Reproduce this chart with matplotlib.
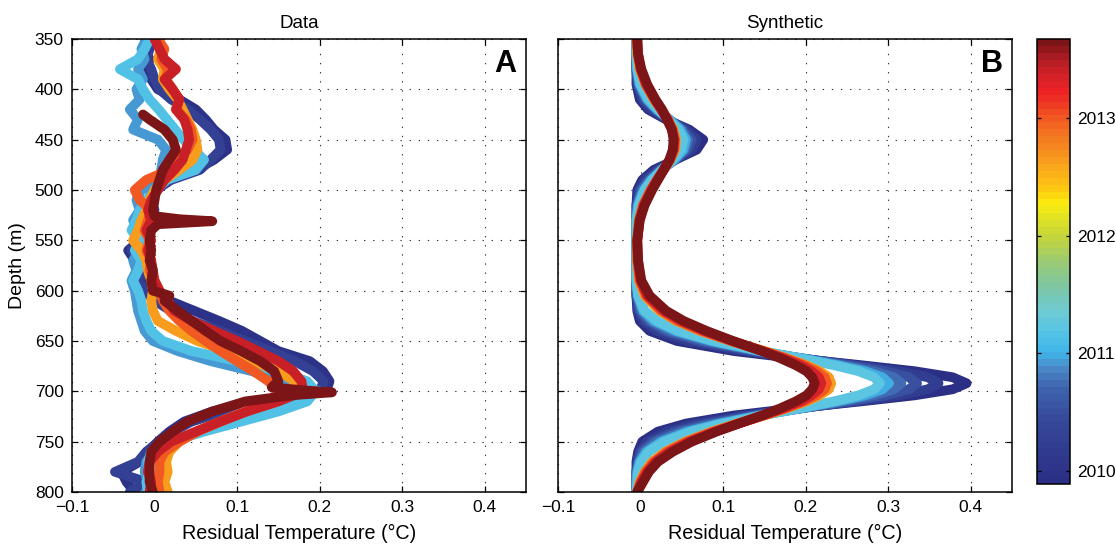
import numpy as np
import matplotlib
matplotlib.use("Agg")
import matplotlib.pyplot as plt
from matplotlib.colors import LinearSegmentedColormap, Normalize
from matplotlib.cm import ScalarMappable

plt.rcParams['font.family'] = ['Liberation Sans', 'DejaVu Sans']

# ---------------- data ----------------
# Panel A: observed residual temperature profiles
depth_A = list(range(350, 801, 10))
time_A = [2009.95, 2010.3, 2010.9, 2011.15, 2012.62, 2013.0, 2013.38]
temp_A_2009_95 = [-0.008, -0.012, -0.006, -0.010, -0.004, 0.004, 0.030, 0.050, 0.062, 0.072,
                  0.086, 0.088, 0.072, 0.050, 0.012, -0.002, -0.008, -0.004, -0.012, -0.020,
                  -0.018, -0.032, -0.024, -0.012, -0.016, -0.006, 0.018, 0.048, 0.078, 0.106,
                  0.128, 0.150, 0.188, 0.204, 0.212, 0.208, 0.125, 0.070, 0.036, 0.018,
                  0.004, -0.008, -0.018, -0.040, -0.034, -0.024]
temp_A_2010_3 = [-0.012, -0.006, -0.010, -0.004, 0.000, 0.006, 0.020, 0.040, 0.055, 0.068,
                 0.078, 0.080, 0.068, 0.055, 0.020, 0.002, -0.004, 0.000, -0.008, -0.016,
                 -0.022, -0.028, -0.018, -0.014, -0.020, -0.012, 0.000, 0.020, 0.045, 0.080,
                 0.110, 0.140, 0.170, 0.192, 0.205, 0.200, 0.145, 0.085, 0.045, 0.022,
                 0.005, -0.010, -0.020, -0.048, -0.010, -0.030]
temp_A_2010_9 = [-0.010, -0.016, -0.012, -0.020, -0.014, -0.022, -0.018, -0.030, -0.020, -0.026,
                 0.004, 0.014, 0.010, 0.008, 0.006, -0.016, -0.022, -0.018, -0.026, -0.020,
                 -0.024, -0.018, -0.026, -0.022, -0.028, -0.024, -0.022, -0.020, -0.016, -0.012,
                 -0.002, 0.028, 0.068, 0.118, 0.165, 0.200, 0.172, 0.130, 0.090, 0.052,
                 0.026, 0.000, -0.010, -0.012, -0.008, -0.010]
temp_A_2011_15 = [-0.006, -0.012, -0.020, -0.042, -0.020, -0.014, -0.006, 0.005, 0.015, 0.025,
                  0.035, 0.048, 0.060, 0.050, 0.015, 0.002, -0.010, -0.018, -0.022, -0.028,
                  -0.018, -0.024, -0.016, -0.020, -0.026, -0.020, -0.016, -0.014, -0.010, -0.004,
                  0.010, 0.045, 0.100, 0.150, 0.185, 0.195, 0.185, 0.150, 0.105, 0.060,
                  0.020, -0.004, -0.008, -0.006, -0.010, -0.008]
temp_A_2012_62 = [0.000, 0.008, 0.004, 0.012, 0.010, 0.018, 0.028, 0.034, 0.040, 0.046,
                  0.050, 0.052, 0.046, 0.030, 0.012, 0.000, -0.006, -0.010, -0.016, -0.020,
                  -0.026, -0.016, -0.010, -0.008, -0.004, -0.002, -0.004, -0.002, 0.004, 0.026,
                  0.052, 0.088, 0.120, 0.150, 0.170, 0.170, 0.150, 0.110, 0.080, 0.050,
                  0.030, 0.018, 0.014, 0.016, 0.012, 0.016]
temp_A_2013_0 = [0.004, 0.012, 0.008, 0.016, 0.014, 0.022, 0.030, 0.026, 0.038, 0.044,
                 0.046, 0.040, 0.030, 0.018, -0.010, -0.024, -0.018, -0.004, -0.008, -0.012,
                 -0.006, -0.010, -0.004, -0.006, 0.000, 0.006, 0.010, 0.018, 0.030, 0.045,
                 0.062, 0.080, 0.100, 0.120, 0.138, 0.150, 0.140, 0.110, 0.080, 0.052,
                 0.030, 0.012, 0.006, 0.006, 0.004, 0.006]
temp_A_2013_38 = [0.000, 0.006, 0.012, 0.026, 0.012, 0.022, 0.030, 0.026, 0.036, 0.040,
                  0.042, 0.038, 0.034, 0.024, 0.012, 0.004, -0.004, -0.008, -0.004, -0.010,
                  -0.004, -0.008, -0.004, -0.002, 0.000, 0.006, 0.016, 0.024, 0.045, 0.072,
                  0.100, 0.125, 0.150, 0.168, 0.178, 0.180, 0.150, 0.112, 0.080, 0.050,
                  0.020, 0.004, -0.006, -0.008, -0.004, -0.006]
temps_A = [temp_A_2009_95, temp_A_2010_3, temp_A_2010_9, temp_A_2011_15,
           temp_A_2012_62, temp_A_2013_0, temp_A_2013_38]
# last profile (2013.67) sampled on its own depths
time_A_last = 2013.67
depth_A_last = [425, 430, 440, 450, 460, 470, 480, 490, 500, 510,
                520, 526, 529, 531, 534, 540, 550, 560, 570, 580,
                590, 600, 605, 610, 620, 630, 640, 650, 660, 670,
                680, 690, 696, 699, 701, 704, 710, 720, 730, 740,
                750, 760, 770, 780, 790, 800]
temp_A_last = [-0.014, -0.006, 0.012, 0.022, 0.026, 0.018, 0.010, 0.006, 0.002, 0.000,
               -0.002, 0.000, 0.030, 0.070, 0.004, -0.004, -0.006, -0.004, -0.006, -0.002,
               -0.004, -0.002, 0.018, 0.012, 0.028, 0.045, 0.062, 0.080, 0.105, 0.128,
               0.145, 0.150, 0.142, 0.180, 0.215, 0.165, 0.110, 0.070, 0.040, 0.022,
               0.006, -0.004, -0.006, -0.006, -0.006, -0.002]

# Panel B: synthetic profiles
depth_B = [350, 365, 380, 395, 410, 420, 430, 440, 450, 460,
           470, 480, 490, 500, 515, 530, 550, 570, 590, 605,
           620, 630, 640, 650, 660, 667, 674, 680, 686, 692,
           698, 704, 710, 717, 724, 732, 740, 750, 760, 770,
           780, 790, 800]
time_B = [2009.9, 2010.2, 2010.5, 2010.75, 2011.0, 2011.2, 2012.62, 2013.0, 2013.35, 2013.67]
temp_B_2009_9 = [-0.005, -0.005, -0.005, -0.005, -0.001, 0.009, 0.031, 0.059, 0.076, 0.068,
                 0.042, 0.016, 0.002, -0.004, -0.005, -0.005, -0.005, -0.005, -0.005, -0.005,
                 -0.004, -0.001, 0.011, 0.044, 0.113, 0.185, 0.267, 0.332, 0.378, 0.395,
                 0.378, 0.332, 0.267, 0.185, 0.113, 0.055, 0.021, 0.002, -0.003, -0.005,
                 -0.005, -0.005, -0.005]
temp_B_2010_2 = [-0.005, -0.005, -0.005, -0.004, 0.002, 0.013, 0.033, 0.055, 0.068, 0.062,
                 0.042, 0.020, 0.005, -0.002, -0.005, -0.005, -0.005, -0.005, -0.005, -0.005,
                 -0.003, 0.003, 0.020, 0.058, 0.127, 0.191, 0.260, 0.312, 0.348, 0.361,
                 0.348, 0.312, 0.260, 0.191, 0.127, 0.069, 0.032, 0.008, -0.001, -0.004,
                 -0.005, -0.005, -0.005]
temp_B_2010_5 = [-0.005, -0.005, -0.005, -0.003, 0.005, 0.017, 0.034, 0.052, 0.062, 0.057,
                 0.042, 0.023, 0.009, 0.000, -0.004, -0.005, -0.005, -0.005, -0.005, -0.005,
                 -0.001, 0.008, 0.029, 0.070, 0.136, 0.194, 0.253, 0.296, 0.325, 0.335,
                 0.325, 0.296, 0.253, 0.194, 0.136, 0.081, 0.042, 0.014, 0.001, -0.003,
                 -0.005, -0.005, -0.005]
temp_B_2010_75 = [-0.005, -0.005, -0.005, -0.002, 0.007, 0.019, 0.035, 0.050, 0.058, 0.054,
                  0.041, 0.025, 0.011, 0.002, -0.004, -0.005, -0.005, -0.005, -0.005, -0.004,
                  0.001, 0.012, 0.035, 0.078, 0.141, 0.194, 0.245, 0.282, 0.307, 0.316,
                  0.307, 0.282, 0.245, 0.194, 0.141, 0.089, 0.050, 0.019, 0.004, -0.002,
                  -0.004, -0.005, -0.005]
temp_B_2011_0 = [-0.005, -0.005, -0.004, -0.001, 0.008, 0.020, 0.035, 0.048, 0.055, 0.052,
                 0.041, 0.026, 0.013, 0.004, -0.003, -0.005, -0.005, -0.005, -0.005, -0.003,
                 0.003, 0.016, 0.042, 0.085, 0.145, 0.193, 0.239, 0.272, 0.293, 0.301,
                 0.293, 0.272, 0.239, 0.193, 0.145, 0.096, 0.057, 0.025, 0.007, -0.001,
                 -0.004, -0.005, -0.005]
temp_B_2011_2 = [-0.005, -0.005, -0.004, 0.000, 0.010, 0.021, 0.034, 0.046, 0.052, 0.049,
                 0.039, 0.026, 0.014, 0.005, -0.002, -0.005, -0.005, -0.005, -0.005, -0.003,
                 0.005, 0.020, 0.046, 0.089, 0.147, 0.192, 0.234, 0.264, 0.283, 0.290,
                 0.283, 0.264, 0.234, 0.192, 0.147, 0.100, 0.062, 0.029, 0.010, 0.001,
                 -0.003, -0.004, -0.005]
temp_B_2012_62 = [-0.005, -0.004, -0.001, 0.006, 0.016, 0.025, 0.033, 0.040, 0.043, 0.042,
                  0.036, 0.028, 0.020, 0.012, 0.003, -0.002, -0.004, -0.004, -0.002, 0.005,
                  0.023, 0.043, 0.072, 0.109, 0.150, 0.177, 0.201, 0.217, 0.228, 0.231,
                  0.228, 0.217, 0.201, 0.177, 0.150, 0.117, 0.086, 0.054, 0.030, 0.014,
                  0.005, -0.001, -0.004]
temp_B_2013_0 = [-0.005, -0.003, 0.000, 0.006, 0.017, 0.025, 0.033, 0.039, 0.042, 0.041,
                 0.036, 0.028, 0.020, 0.012, 0.003, -0.002, -0.004, -0.004, -0.001, 0.007,
                 0.025, 0.045, 0.074, 0.110, 0.149, 0.175, 0.198, 0.213, 0.223, 0.226,
                 0.223, 0.213, 0.198, 0.175, 0.149, 0.118, 0.088, 0.056, 0.032, 0.016,
                 0.006, 0.000, -0.004]
temp_B_2013_35 = [-0.004, -0.003, 0.000, 0.007, 0.017, 0.025, 0.033, 0.038, 0.041, 0.040,
                  0.035, 0.028, 0.020, 0.013, 0.004, -0.001, -0.004, -0.003, 0.000, 0.008,
                  0.028, 0.049, 0.077, 0.111, 0.148, 0.173, 0.194, 0.207, 0.216, 0.219,
                  0.216, 0.207, 0.194, 0.173, 0.148, 0.119, 0.090, 0.059, 0.035, 0.018,
                  0.008, 0.001, -0.004]
temp_B_2013_67 = [-0.004, -0.003, 0.001, 0.008, 0.018, 0.026, 0.032, 0.038, 0.040, 0.039,
                  0.035, 0.028, 0.021, 0.014, 0.005, -0.001, -0.004, -0.003, 0.001, 0.011,
                  0.031, 0.052, 0.080, 0.112, 0.147, 0.169, 0.188, 0.201, 0.208, 0.211,
                  0.208, 0.201, 0.188, 0.169, 0.147, 0.119, 0.092, 0.062, 0.039, 0.021,
                  0.010, 0.003, -0.004]
temps_B = [temp_B_2009_9, temp_B_2010_2, temp_B_2010_5, temp_B_2010_75, temp_B_2011_0,
           temp_B_2011_2, temp_B_2012_62, temp_B_2013_0, temp_B_2013_35, temp_B_2013_67]

x_ticks = [-0.1, 0.0, 0.1, 0.2, 0.3, 0.4]
x_tick_labels = ['\u22120.1', '0', '0.1', '0.2', '0.3', '0.4']
y_ticks = [350, 400, 450, 500, 550, 600, 650, 700, 750, 800]
cbar_ticks = [2010, 2011, 2012, 2013]
time_min, time_max = 2009.89, 2013.67

# ---------------- colormap ----------------
anchor_t = [2009.89, 2010.4, 2010.7, 2010.85, 2011.0, 2011.17, 2011.35, 2011.57, 2011.8,
            2012.0, 2012.2, 2012.27, 2012.42, 2012.6, 2012.75, 2012.93, 2013.1, 2013.24,
            2013.41, 2013.55, 2013.67]
anchor_c = ['#2b2f85', '#36479a', '#3f64ae', '#4a85c5', '#3fb6e8', '#55c3e6', '#6fcbd4',
            '#7dc6a0', '#9fcb6e', '#c5d63a', '#e8e51d', '#fdee0e', '#fdc512', '#f9a51c',
            '#f58a1f', '#f26a21', '#ef4423', '#ee2225', '#cf2129', '#a81b22', '#7c1517']
pos = [(t - time_min) / (time_max - time_min) for t in anchor_t]
cmap = LinearSegmentedColormap.from_list('yrs', list(zip(pos, anchor_c))).resampled(64)
norm = Normalize(vmin=time_min, vmax=time_max)

# ---------------- figure ----------------
W, H = 1116, 548
fig = plt.figure(figsize=(W / 100, H / 100), dpi=100)
axA = fig.add_axes([72 / W, 56 / H, 454 / W, 453 / H])
axB = fig.add_axes([558 / W, 56 / H, 454 / W, 453 / H])
cax = fig.add_axes([1037 / W, 64 / H, 33 / W, 445 / H])

LW = 7
for t, temp in zip(time_A, temps_A):
    axA.plot(temp, depth_A, color=cmap(norm(t)), lw=LW,
             solid_capstyle='round', solid_joinstyle='round')
axA.plot(temp_A_last, depth_A_last, color=cmap(norm(time_A_last)), lw=LW,
         solid_capstyle='round', solid_joinstyle='round')

for t, temp in zip(time_B, temps_B):
    axB.plot(temp, depth_B, color=cmap(norm(t)), lw=LW,
             solid_capstyle='round', solid_joinstyle='round')

for ax in (axA, axB):
    ax.set_xlim(-0.1, 0.45)
    ax.set_ylim(800, 350)
    ax.set_xticks(x_ticks)
    ax.set_xticklabels(x_tick_labels)
    ax.set_yticks(y_ticks)
    ax.grid(True, color='0.2', linestyle=(0, (1.2, 7)), linewidth=0.8)
    ax.tick_params(direction='in', top=True, right=True, length=4, width=0.9,
                   labelsize=12.5, pad=6)
    for s in ax.spines.values():
        s.set_linewidth(1.1)
    ax.set_xlabel('Residual Temperature (\u00b0C)', fontsize=14.2, labelpad=6)

axB.tick_params(labelleft=False)
axA.set_ylabel('Depth (m)', fontsize=14, labelpad=6)
axA.set_title('Data', fontsize=13.5, pad=8)
axB.set_title('Synthetic', fontsize=13.5, pad=8)
axA.text(0.955, 0.945, 'A', transform=axA.transAxes, fontsize=22, fontweight='bold',
         ha='center', va='center')
axB.text(0.955, 0.945, 'B', transform=axB.transAxes, fontsize=22, fontweight='bold',
         ha='center', va='center')

cb = fig.colorbar(ScalarMappable(norm=norm, cmap=cmap), cax=cax)
cb.set_ticks(cbar_ticks)
cb.ax.tick_params(direction='in', left=True, right=True, length=3, width=0.9,
                  labelsize=12.5, pad=5)
cb.outline.set_linewidth(1.1)

fig.savefig('out.png', dpi=100)
